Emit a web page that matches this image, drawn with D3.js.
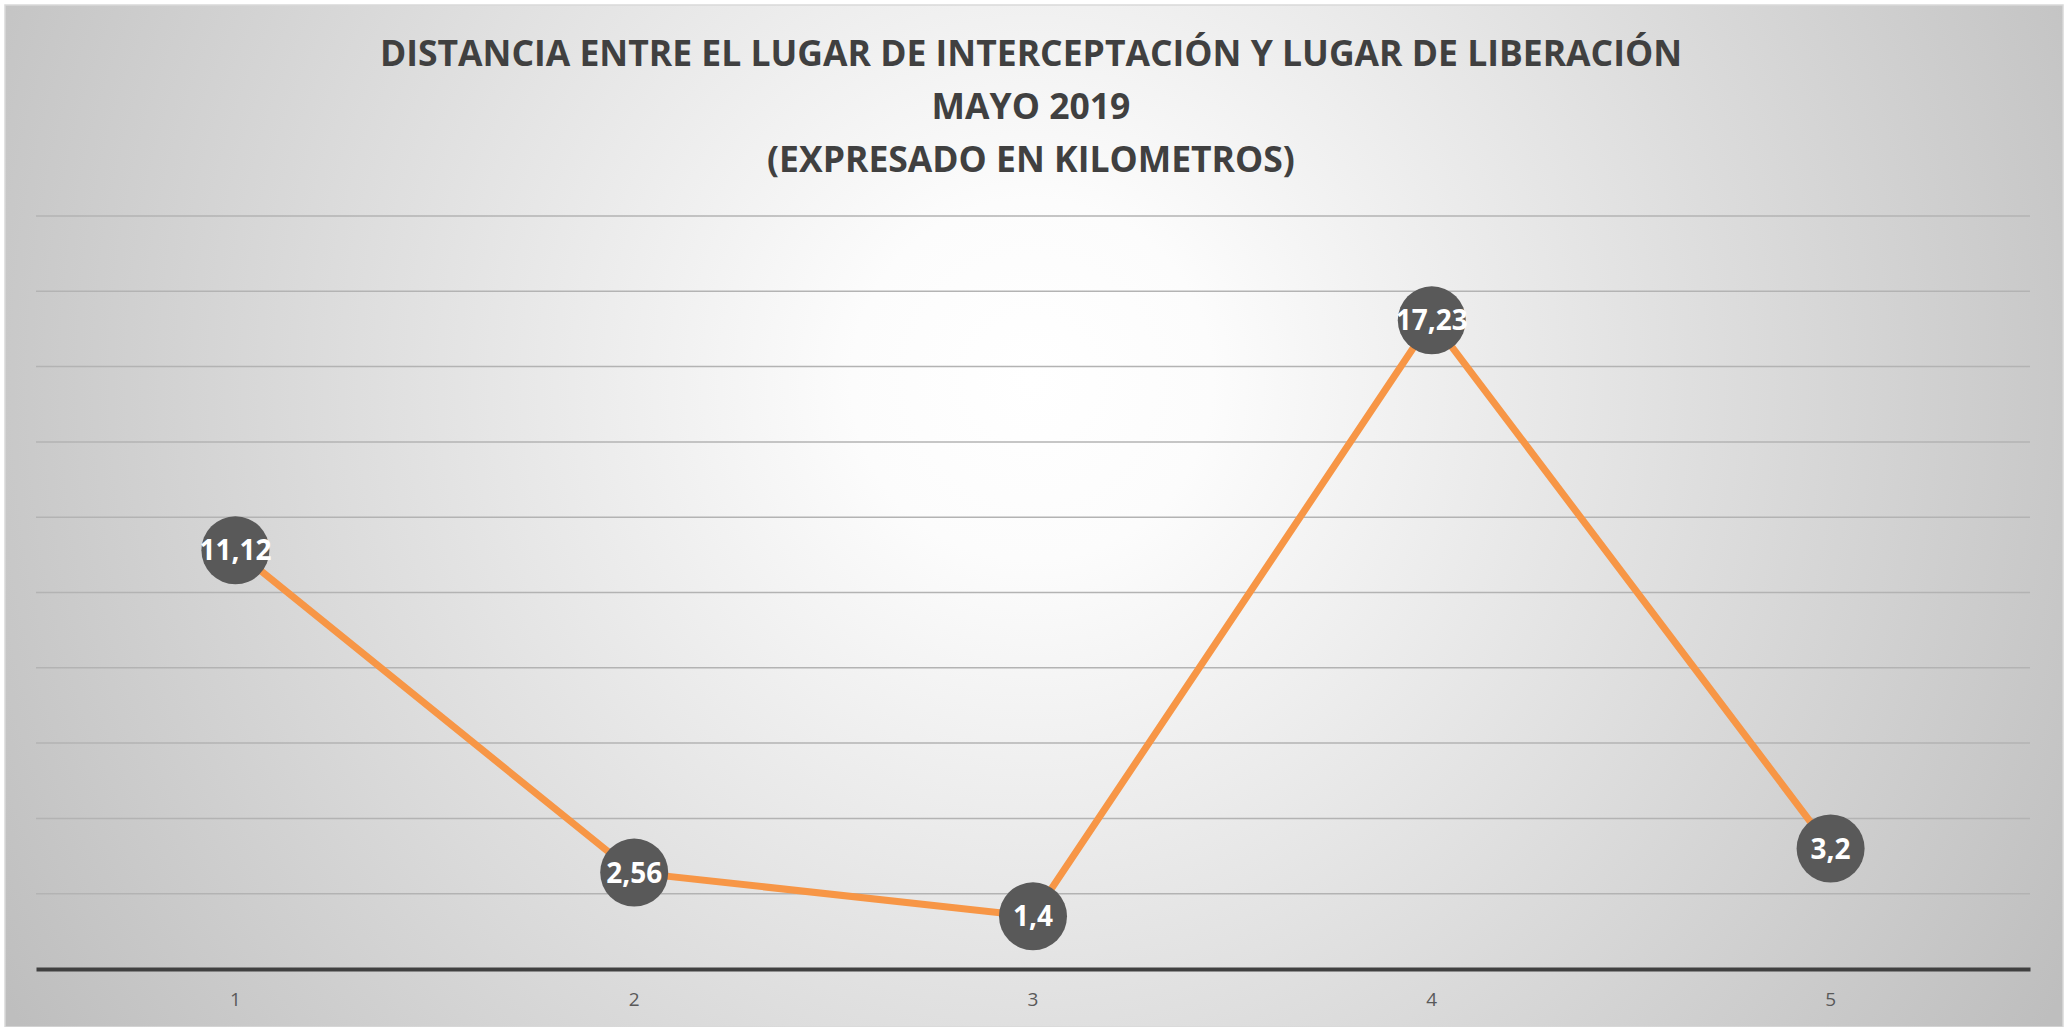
<!DOCTYPE html>
<html>
<head>
<meta charset="utf-8">
<script src="https://cdn.jsdelivr.net/npm/d3@7"></script>
<style>
body { margin:0; background:#fff; }
svg { display:block; }
</style>
</head>
<body>
<div id="chart_place"></div>
<script>
// data
var categories = ["1", "2", "3", "4", "5"];
var distances = [11.12, 2.56, 1.4, 17.23, 3.2];
var labels = ["11,12", "2,56", "1,4", "17,23", "3,2"];
var yTicks = [0, 2, 4, 6, 8, 10, 12, 14, 16, 18, 20];
var titleLines = ["DISTANCIA ENTRE EL LUGAR DE INTERCEPTACIÓN Y LUGAR DE LIBERACIÓN", "MAYO 2019", "(EXPRESADO EN KILOMETROS)"];

var W = 2065, H = 1027;
var svg = d3.select("#chart_place").append("svg").attr("width", W).attr("height", H);

// background, white in the middle and gray in the corners
var grad = svg.append("defs").append("radialGradient").attr("id", "bg")
    .attr("gradientUnits", "userSpaceOnUse")
    .attr("cx", 1032).attr("cy", 380).attr("r", 1200);
grad.append("stop").attr("offset", "0%").attr("stop-color", "#ffffff");
grad.append("stop").attr("offset", "15%").attr("stop-color", "#fcfcfc");
grad.append("stop").attr("offset", "100%").attr("stop-color", "#bebebe");

svg.append("rect").attr("x", 5).attr("y", 5).attr("width", W - 7).attr("height", H - 5)
    .style("fill", "url(#bg)").style("stroke", "#d9d9d9").style("stroke-width", 1.5);

var margin = {left: 36, right: 35, top: 216, bottom: 58};
var x = d3.scaleBand().domain(categories).range([margin.left, W - margin.right]);
var y = d3.scaleLinear().domain([0, 20]).range([H - margin.bottom, margin.top]);

// gridlines
svg.append("g").selectAll("line").data(yTicks.slice(1)).enter().append("line")
    .attr("x1", margin.left).attr("x2", W - margin.right)
    .attr("y1", function(d){ return y(d); }).attr("y2", function(d){ return y(d); })
    .style("stroke", "#b3b3b3").style("stroke-width", 1.5);

// x axis
var xAxis = svg.append("g").attr("transform", "translate(0," + y(0) + ")")
    .call(d3.axisBottom(x).tickSize(0).tickPadding(24));
xAxis.select(".domain").style("stroke", "#404040").style("stroke-width", 4);
xAxis.selectAll("text").style("font-family", "'Open Sans', sans-serif").style("font-size", "19px").style("fill", "#595959");

// line
var cx = function(d, i){ return x(categories[i]) + x.bandwidth() / 2; };
var line = d3.line().x(cx).y(function(d){ return y(d); });
svg.append("path").datum(distances).attr("d", line)
    .style("fill", "none").style("stroke", "#f79646").style("stroke-width", 7).style("stroke-linejoin", "round");

// markers
var marks = svg.append("g").selectAll("g").data(distances).enter().append("g")
    .attr("transform", function(d, i){ return "translate(" + cx(d, i) + "," + y(d) + ")"; });
marks.append("circle").attr("r", 34).style("fill", "#595959");
marks.append("text").text(function(d, i){ return labels[i]; })
    .attr("text-anchor", "middle").attr("dy", "0.36em")
    .style("font-family", "'Open Sans', sans-serif").style("font-weight", "bold")
    .style("font-size", "28px").style("fill", "#ffffff");

// title
svg.append("g").selectAll("text").data(titleLines).enter().append("text")
    .attr("x", 1031).attr("y", function(d, i){ return 66 + i * 53; })
    .attr("text-anchor", "middle")
    .style("font-family", "'Open Sans', sans-serif").style("font-weight", "bold")
    .style("font-size", "35.5px").style("fill", "#404040")
    .text(function(d){ return d; });
</script>
</body>
</html>
